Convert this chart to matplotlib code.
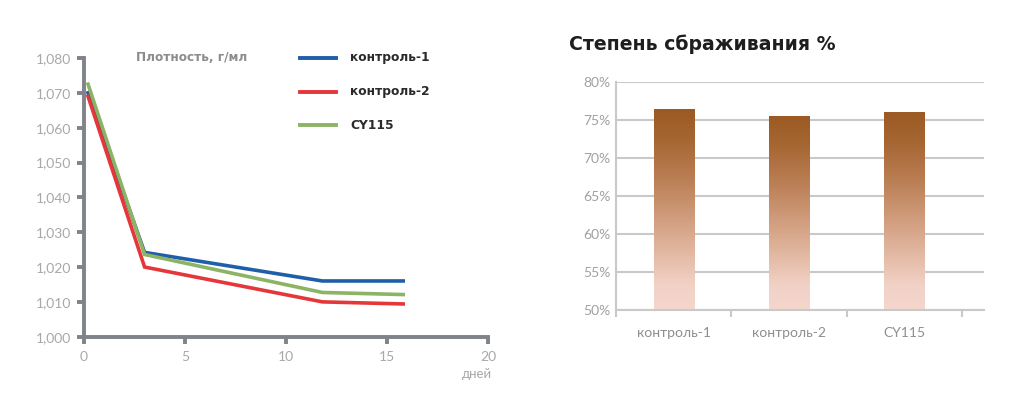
import numpy as np
import matplotlib.pyplot as plt
from matplotlib.colors import LinearSegmentedColormap
from matplotlib.patches import Rectangle

# --- данные: плотность ---
days = [0.2, 3.0, 11.8, 15.8]
series_names = ['контроль-1', 'контроль-2', 'CY115']
density_k1 = [1.0700, 1.0242, 1.0160, 1.0160]
density_k2 = [1.0690, 1.0200, 1.0100, 1.0094]
density_cy = [1.0725, 1.0236, 1.0127, 1.0121]
series_colors = ['#1f5ea8', '#e5373a', '#8cb464']

# --- данные: степень сбраживания ---
bar_labels = ['контроль-1', 'контроль-2', 'CY115']
attenuation = [76.4, 75.5, 76.0]

plt.rcParams['font.family'] = ['Lato', 'DejaVu Sans']

fig = plt.figure(figsize=(10.24, 4.07), dpi=100)

# ---------------- левый график ----------------
ax1 = fig.add_axes([0.082, 0.1727, 0.3946, 0.6848])
for vals, col in zip([density_k1, density_cy, density_k2], [series_colors[0], series_colors[2], series_colors[1]]):
    ax1.plot(days, vals, color=col, lw=2.6, solid_joinstyle='miter', zorder=3)

ax1.set_xlim(0, 20)
ax1.set_ylim(1.000, 1.080)
ax1.set_xticks([0, 5, 10, 15, 20])
ax1.set_yticks(np.arange(1.000, 1.0801, 0.010))
ax1.set_yticklabels([f'{v:.3f}'.replace('.', ',') for v in np.arange(1.000, 1.0801, 0.010)])
for s in ['top', 'right']:
    ax1.spines[s].set_visible(False)
for s in ['left', 'bottom']:
    ax1.spines[s].set_color('#808389')
    ax1.spines[s].set_linewidth(2.8)
ax1.tick_params(axis='both', colors='#808389', width=2.8, length=5,
                labelcolor='#a8a8a8', labelsize=10)
ax1.tick_params(axis='x', pad=5)
ax1.tick_params(axis='y', pad=4)
ax1.annotate('дней', xy=(20, 1.000), xytext=(3, -27), textcoords='offset points',
             ha='right', va='center', color='#a8a8a8', fontsize=9.5,
             annotation_clip=False)

fig.text(0.133, 0.858, 'Плотность, г/мл', color='#8c8c8c', fontsize=8.7,
         fontweight='bold', va='center', family=['DejaVu Sans'])
leg_y = [0.858, 0.774, 0.692]
for name, col, y in zip(series_names, series_colors, leg_y):
    fig.add_artist(plt.Line2D([0.293, 0.328], [y, y], color=col, lw=2.8,
                              transform=fig.transFigure))
    fig.text(0.342, y, name, color='#2a2a2a', fontsize=8.8, fontweight='bold',
             va='center', family=['DejaVu Sans'])

# ---------------- правый график ----------------
ax2 = fig.add_axes([0.6016, 0.2383, 0.3593, 0.561])
x = np.arange(len(bar_labels))
width = 0.35
ax2.set_xlim(-0.5, 2.69)
ax2.set_ylim(50, 80)
ax2.set_yticks(range(50, 81, 5))
ax2.set_yticklabels([f'{v}%' for v in range(50, 81, 5)])
ax2.yaxis.grid(True, color='#c9c9c9', lw=1.5)
ax2.set_axisbelow(True)
ax2.set_xticks([-0.5, 0.5, 1.5, 2.5])
ax2.set_xticklabels([])
ax2.set_xticks(x, minor=True)
ax2.set_xticklabels(bar_labels, minor=True)
ax2.tick_params(axis='x', which='minor', length=0, pad=12, labelcolor='#8e8e8e', labelsize=10)
ax2.tick_params(axis='x', which='major', length=5, width=1.5, color='#c9c9c9', direction='out')
ax2.tick_params(axis='y', length=0, pad=4, labelcolor='#a0a0a0', labelsize=10)
for s in ['top', 'right']:
    ax2.spines[s].set_visible(False)
for s in ['left', 'bottom']:
    ax2.spines[s].set_color('#c9c9c9')
    ax2.spines[s].set_linewidth(1.5)

cmap = LinearSegmentedColormap.from_list('brown', [
    (0.0, '#f4d6cd'), (0.12, '#f2d2c7'), (0.35, '#dcae94'),
    (0.65, '#bb7f55'), (0.85, '#a66632'), (1.0, '#9b5a23')])
grad = np.linspace(0, 1, 256).reshape(-1, 1)
for xi, v in zip(x, attenuation):
    rect = Rectangle((xi - width / 2, 50), width, v - 50, transform=ax2.transData,
                     facecolor='none', edgecolor='none')
    ax2.add_patch(rect)
    im = ax2.imshow(grad, cmap=cmap, origin='lower', aspect='auto',
                    extent=[xi - width / 2, xi + width / 2, 50, v], zorder=2)
    im.set_clip_path(rect)
ax2.set_xlim(-0.5, 2.69)
ax2.set_ylim(50, 80)

fig.text(0.556, 0.892, 'Степень сбраживания %', color='#1e1e1e', fontsize=13.6,
         fontweight='bold', va='center', family=['DejaVu Sans'])

fig.savefig('out.png', dpi=100)
